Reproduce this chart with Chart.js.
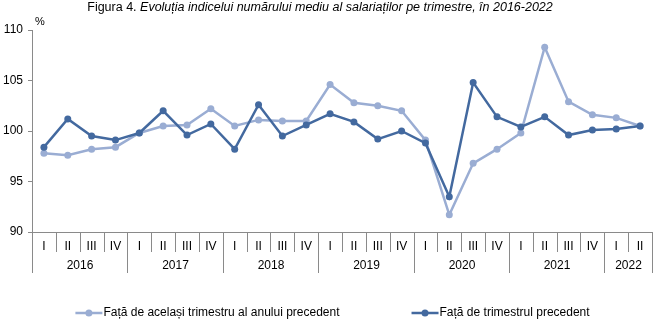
<!DOCTYPE html>
<html>
<head>
<meta charset="utf-8">
<script src="https://cdn.jsdelivr.net/npm/chart.js@4.4.0/dist/chart.umd.min.js"></script>
<style>
  html, body { margin: 0; padding: 0; background: #fff; }
  #wrap { width: 656px; height: 324px; }
</style>
</head>
<body>
<div id="wrap"><canvas id="myChart" width="656" height="324"></canvas></div>
<script>
const quarters = [
  'I', 'II', 'III', 'IV',
  'I', 'II', 'III', 'IV',
  'I', 'II', 'III', 'IV',
  'I', 'II', 'III', 'IV',
  'I', 'II', 'III', 'IV',
  'I', 'II', 'III', 'IV',
  'I', 'II'
];
const years = ['2016', '2017', '2018', '2019', '2020', '2021', '2022'];
const quartersPerYear = [4, 4, 4, 4, 4, 4, 2];

const sameQuarterPrevYear = [
  97.8, 97.6, 98.2, 98.4,
  99.8, 100.5, 100.6, 102.2,
  100.5, 101.1, 101.0, 101.0,
  104.6, 102.8, 102.5, 102.0,
  99.1, 91.7, 96.8, 98.2,
  99.8, 108.3, 102.9, 101.6,
  101.3, 100.5
];
const prevQuarter = [
  98.4, 101.2, 99.5, 99.1,
  99.8, 102.0, 99.6, 100.7,
  98.2, 102.6, 99.5, 100.6,
  101.7, 100.9, 99.2, 100.0,
  98.8, 93.5, 104.8, 101.4,
  100.4, 101.4, 99.6, 100.1,
  100.2, 100.5
];
const yTicks = [90, 95, 100, 105, 110];

const seriesNames = [
  'Față de același trimestru al anului precedent',
  'Față de trimestrul precedent'
];
const lightBlue = '#9aadd3';
const darkBlue = '#43699f';
const axisGrey = '#8a8a8a';
const FONT = 'Arial, "Liberation Sans", sans-serif';

// title, % unit, two-level category axis and the legend
const decor = {
  id: 'decor',
  afterDraw(chart) {
    const ctx = chart.ctx;
    const x = chart.scales.x;
    const area = chart.chartArea;
    const base = Math.round(area.bottom);
    const half = (x.getPixelForValue(1) - x.getPixelForValue(0)) / 2;
    const edge = i => Math.round(x.getPixelForValue(i) - half) + 0.5;

    ctx.save();
    ctx.strokeStyle = axisGrey;
    ctx.lineWidth = 1;

    // quarter separators
    for (let i = 0; i <= quarters.length; i++) {
      ctx.beginPath();
      ctx.moveTo(edge(i), base);
      ctx.lineTo(edge(i), base + 20);
      ctx.stroke();
    }

    // year separators + labels
    ctx.fillStyle = '#000';
    ctx.font = '12px ' + FONT;
    ctx.textAlign = 'center';
    ctx.textBaseline = 'middle';
    let start = 0;
    years.forEach((yr, k) => {
      const end = start + quartersPerYear[k];
      [start, end].forEach(i => {
        ctx.beginPath();
        ctx.moveTo(edge(i), base);
        ctx.lineTo(edge(i), base + 41);
        ctx.stroke();
      });
      ctx.fillText(yr, (edge(start) + edge(end)) / 2, base + 34);
      start = end;
    });

    // unit
    ctx.textAlign = 'left';
    ctx.font = '11px ' + FONT;
    ctx.fillText('%', area.left + 3, 22);

    // title: normal + italic
    const t1 = 'Figura 4. ';
    const t2 = 'Evoluția indicelui numărului mediu al salariaților pe trimestre, în 2016-2022';
    ctx.font = '12.5px ' + FONT;
    const w1 = ctx.measureText(t1).width;
    ctx.font = 'italic 12.5px ' + FONT;
    const w2 = ctx.measureText(t2).width;
    let tx = 320 - (w1 + w2) / 2;
    ctx.font = '12.5px ' + FONT;
    ctx.fillText(t1, tx, 8);
    ctx.font = 'italic 12.5px ' + FONT;
    ctx.fillText(t2, tx + w1, 8);

    // legend
    ctx.font = '12px ' + FONT;
    const mark = 27, gap = 72;
    const widths = seriesNames.map(s => ctx.measureText(s).width);
    const total = mark * 2 + widths[0] + widths[1] + gap + 1;
    let lx = 332 - total / 2;
    const ly = 313;
    chart.data.datasets.forEach((ds, i) => {
      ctx.strokeStyle = ds.borderColor;
      ctx.fillStyle = ds.borderColor;
      ctx.lineWidth = 2.5;
      ctx.beginPath();
      ctx.moveTo(lx, ly);
      ctx.lineTo(lx + mark, ly);
      ctx.stroke();
      ctx.beginPath();
      ctx.arc(lx + mark / 2, ly, 3.5, 0, Math.PI * 2);
      ctx.fill();
      ctx.fillStyle = '#000';
      ctx.fillText(ds.label, lx + mark + 1, ly);
      lx += mark + 1 + widths[i] + gap;
    });
    ctx.restore();
  }
};

const ctx = document.getElementById('myChart');

new Chart(ctx, {
  type: 'line',
  data: {
    labels: quarters,
    datasets: [
      {
        label: seriesNames[0],
        data: sameQuarterPrevYear,
        borderColor: lightBlue,
        backgroundColor: lightBlue,
        borderWidth: 2.5,
        pointRadius: 3.5,
        pointBorderWidth: 0,
        tension: 0,
        order: 1
      },
      {
        label: seriesNames[1],
        data: prevQuarter,
        borderColor: darkBlue,
        backgroundColor: darkBlue,
        borderWidth: 2.5,
        pointRadius: 3.5,
        pointBorderWidth: 0,
        tension: 0,
        order: 0
      }
    ]
  },
  options: {
    responsive: false,
    animation: false,
    events: [],
    layout: { padding: { top: 30, right: 4, left: 0, bottom: 0 } },
    plugins: {
      legend: { display: false },
      tooltip: { enabled: false }
    },
    scales: {
      x: {
        offset: true,
        grid: { display: false, drawTicks: false },
        border: { display: true, color: axisGrey },
        ticks: {
          color: '#000',
          font: { family: FONT, size: 12 },
          padding: 7,
          maxRotation: 0,
          autoSkip: false
        },
        afterFit: s => { s.height = 92; }
      },
      y: {
        min: yTicks[0],
        max: yTicks[yTicks.length - 1],
        ticks: {
          stepSize: yTicks[1] - yTicks[0],
          color: '#000',
          font: { family: FONT, size: 12 },
          padding: 5
        },
        grid: { drawOnChartArea: false, drawTicks: true, tickLength: 4, color: axisGrey },
        border: { display: true, color: axisGrey },
        afterFit: s => { s.width = 32; }
      }
    }
  },
  plugins: [decor]
});
</script>
</body>
</html>
